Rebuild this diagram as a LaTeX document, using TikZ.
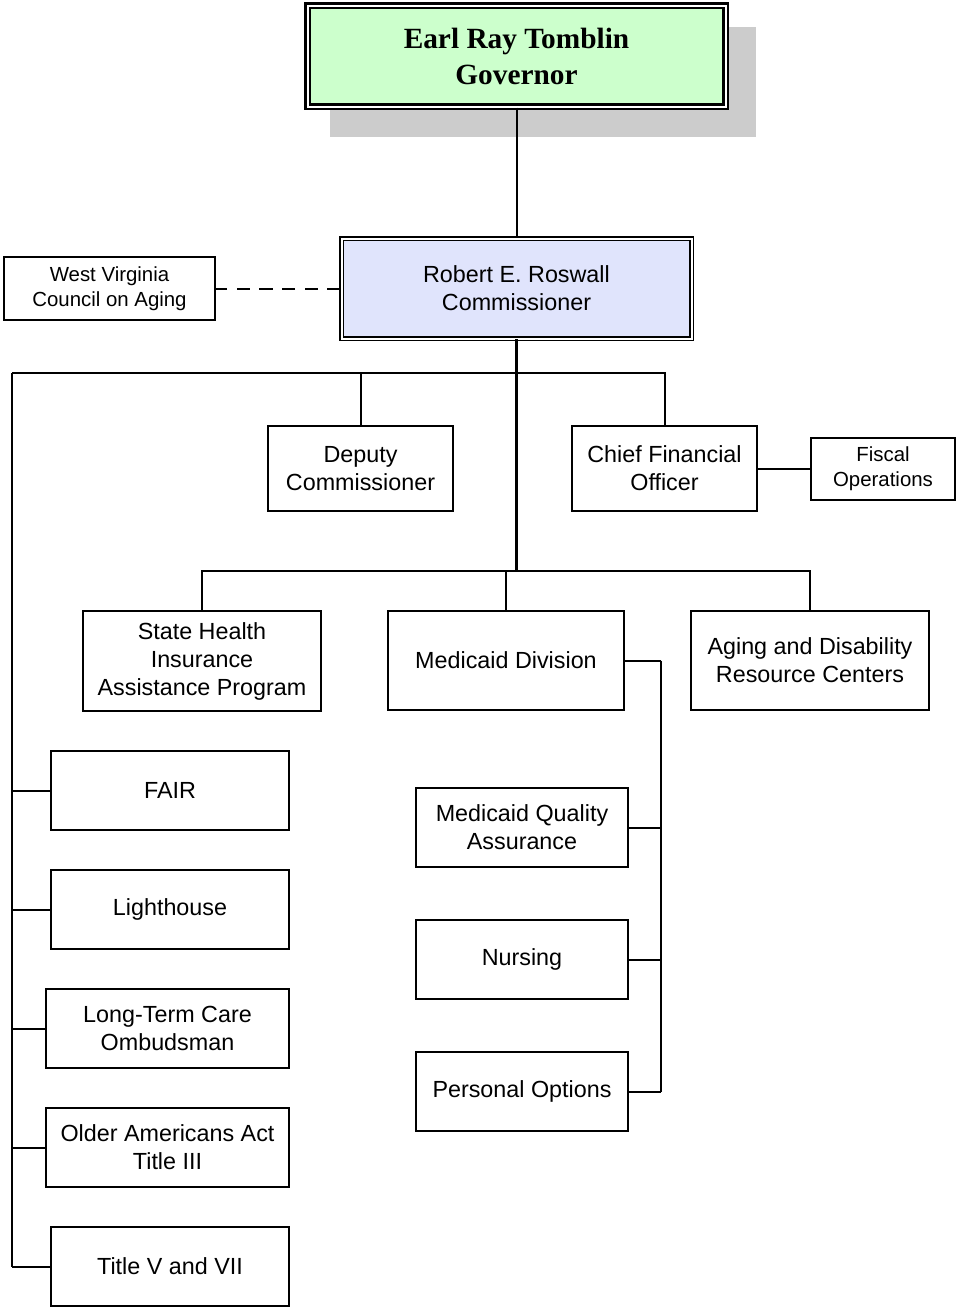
\documentclass[tikz,border=0pt]{standalone}
\usepackage{fontspec}
\setmainfont{Liberation Sans}
\newfontfamily\govfont{Liberation Serif}
\usetikzlibrary{backgrounds}
\definecolor{govgreen}{RGB}{204,255,204}
\definecolor{comblue}{RGB}{224,228,252}
\begin{document}
\begin{tikzpicture}[x=0.75pt,y=-0.75pt,
  box/.style={draw,line width=1.5pt,fill=white,inner sep=0pt,align=center,
    font=\fontsize{17.5}{21}\selectfont},
  smallbox/.style={box,font=\fontsize{15.3}{18.75}\selectfont},
  link/.style={line width=1.5pt},
  trunk/.style={line width=2.2pt}]
  \useasboundingbox (0,0) rectangle (956,1307);
  % top of the chart
  \node[box,fill=govgreen,double,line width=1.7pt,double distance=1.5pt,
    minimum width=313.5pt,minimum height=75.75pt,
    font=\govfont\bfseries\fontsize{22}{27}\selectfont]
    (gov) at (516.5,56) {Earl Ray Tomblin\\Governor};
  \begin{scope}[on background layer]
    \fill[black!20] ([shift={(23.5,22.5)}]gov.north west) rectangle ([shift={(29.5,29.5)}]gov.south east);
  \end{scope}
  \node[box,fill=comblue,double,line width=1.4pt,double distance=1.5pt,
    minimum width=262.5pt,minimum height=75pt] (com) at (516.5,288.5) {Robert E. Roswall\\Commissioner};
  \node[smallbox,minimum width=158.25pt,minimum height=47.25pt] (wv) at (109.5,288.5) {West Virginia\\Council on Aging};
  % second row
  \node[box,minimum width=138.75pt,minimum height=63.75pt] (dep) at (360.5,468.5) {Deputy\\Commissioner};
  \node[box,minimum width=138.75pt,minimum height=63.75pt] (cfo) at (664.5,468.5) {Chief Financial\\Officer};
  \node[smallbox,minimum width=108pt,minimum height=46.5pt] (fis) at (883,468.5) {Fiscal\\Operations};
  % third row
  \node[box,minimum width=178.5pt,minimum height=75pt] (ship) at (202,661) {State Health\\Insurance\\Assistance Program};
  \node[box,minimum width=177pt,minimum height=74.25pt] (med) at (506,660.5) {Medicaid Division};
  \node[box,minimum width=178.5pt,minimum height=74.25pt] (adrc) at (810,660.5) {Aging and Disability\\Resource Centers};
  % under medicaid
  \node[box,minimum width=159pt,minimum height=59.25pt] (mqa) at (522,827.5) {Medicaid Quality\\Assurance};
  \node[box,minimum width=159pt,minimum height=59.25pt] (nurs) at (522,959.5) {Nursing};
  \node[box,minimum width=159pt,minimum height=59.25pt] (po) at (522,1091.5) {Personal Options};
  % left column
  \node[box,minimum width=178.5pt,minimum height=59.25pt] (fair) at (170,790.5) {FAIR};
  \node[box,minimum width=178.5pt,minimum height=59.25pt] (light) at (170,909.5) {Lighthouse};
  \node[box,minimum width=182.25pt,minimum height=59.25pt] (ltc) at (167.5,1028.5) {Long-Term Care\\Ombudsman};
  \node[box,minimum width=182.25pt,minimum height=59.25pt] (oaa) at (167.5,1147.5) {Older Americans Act\\Title III};
  \node[box,minimum width=178.5pt,minimum height=59.25pt] (tv) at (170,1266.5) {Title V and VII};
  % connectors
  \coordinate (bus1) at (516.5,373);
  \coordinate (bus2) at (516.5,571);
  \coordinate (ltop) at (12,373);
  \coordinate (mbus) at ([xshift=27pt]med.east);
  \draw[link] (gov.south) -- (com.north);
  \draw[link,dash pattern=on 10pt off 7pt] (com.west) -- (wv.east);
  \draw[trunk] (com.south) -- (bus2);
  \draw[link] (cfo.north) |- (ltop);
  \draw[link] (dep.north) -- (dep.north |- bus1);
  \draw[link] (cfo.east) -- (fis.west);
  \draw[link] (ship.north) |- (bus2) -| (adrc.north);
  \draw[link] (med.north) -- (med.north |- bus2);
  \draw[trunk] (ltop) -- (ltop |- tv.west);
  \foreach \n in {fair,light,ltc,oaa,tv}
    \draw[link] (ltop |- \n.west) -- (\n.west);
  \draw[link] (med.east) -- (mbus);
  \draw[trunk] (mbus) -- (mbus |- po.east);
  \foreach \n in {mqa,nurs,po}
    \draw[link] (mbus |- \n.east) -- (\n.east);
\end{tikzpicture}
\end{document}
